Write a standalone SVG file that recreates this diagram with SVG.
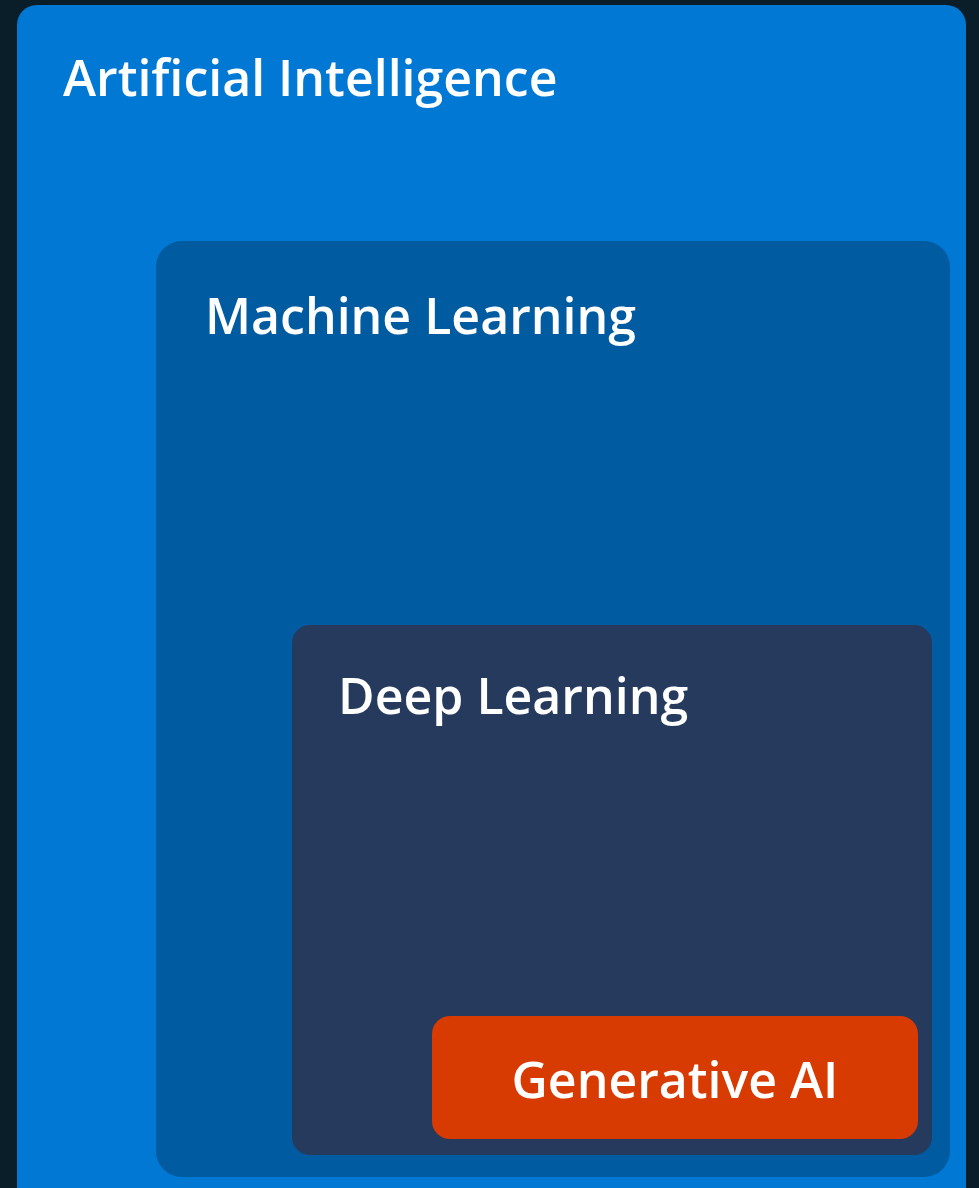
<svg xmlns="http://www.w3.org/2000/svg" width="979" height="1188" viewBox="0 0 979 1188">
<style>
.t{font-family:"Open Sans","Noto Sans","Liberation Sans",sans-serif;font-weight:600;fill:#ffffff;font-size:50px}
</style>
<rect x="0" y="0" width="979" height="1188" fill="#0a1e2a"/>
<g id="ai">
<rect x="17" y="5" width="949" height="1203" rx="20" fill="#0078d4"/>
<text class="t" x="63" y="96">Artificial Intelligence</text>
</g>
<g id="ml">
<rect x="156" y="241" width="794" height="936" rx="26" fill="#005ba1"/>
<text class="t" x="205" y="334">Machine Learning</text>
</g>
<g id="dl">
<rect x="292" y="625" width="640" height="530" rx="18" fill="#263a5e"/>
<text class="t" x="338" y="714">Deep Learning</text>
</g>
<g id="genai">
<rect x="432" y="1016" width="486" height="123" rx="18" fill="#d83b01"/>
<text class="t" x="675" y="1098" text-anchor="middle">Generative AI</text>
</g>
<g id="connectors"/>
</svg>
